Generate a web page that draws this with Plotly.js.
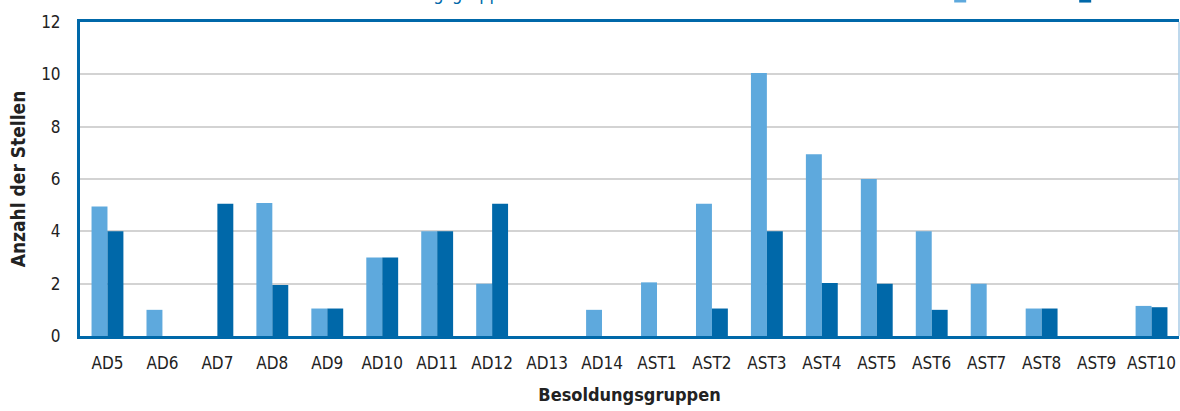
<!DOCTYPE html>
<html>
<head>
<meta charset="utf-8">
<script src="https://cdn.plot.ly/plotly-3.0.1.min.js"></script>
<style>html,body{margin:0;padding:0;background:#fff;}#chart{width:1180px;height:411px;}</style>
</head>
<body>
<div id="chart"></div>
<script>
const categories = ["AD5","AD6","AD7","AD8","AD9","AD10","AD11","AD12","AD13","AD14","AST1","AST2","AST3","AST4","AST5","AST6","AST7","AST8","AST9","AST10"];
const seriesAName = "Frauen";
const seriesBName = "Männer";
const seriesA = [4.95,1,0,5.08,1.05,3,4,2,0,1,2.05,5.05,10.05,6.95,6,4,2,1.05,0,1.15];
const seriesB = [4,0,5.05,1.95,1.05,3,4,5.05,0,0,0,1.05,4,2.03,2,1,0,1.05,0,1.1];
const yTicks = [0,2,4,6,8,10,12];

const FONT = '"Liberation Sans Narrow","DejaVu Sans Condensed","Arial Narrow",sans-serif';
const LIGHT = '#5ea9dd';
const DARK = '#0068a9';

const traces = [
  {type:'bar', name:seriesAName, x:categories, y:seriesA, marker:{color:LIGHT, line:{width:0}}},
  {type:'bar', name:seriesBName, x:categories, y:seriesB, marker:{color:DARK, line:{width:0}}}
];

const layout = {
  width:1180, height:411,
  margin:{l:80, r:1, t:22, b:75, autoexpand:false},
  paper_bgcolor:'#fff', plot_bgcolor:'#fff',
  font:{family:FONT, size:17, color:'#222'},
  barmode:'group', bargap:0.42, bargroupgap:0,
  showlegend:true,
  legend:{orientation:'h', x:0.7827, xanchor:'left', y:1.081, yanchor:'middle',
          font:{family:FONT, size:10, color:'#222'}, bgcolor:'rgba(0,0,0,0)',
          entrywidth:80, entrywidthmode:'pixels'},
  xaxis:{type:'category', showline:true, linecolor:DARK, linewidth:3, mirror:true,
         showgrid:false, ticks:'', ticklabelstandoff:10,
         tickfont:{family:FONT, size:17, color:'#222'},
         title:{text:'<b>Besoldungsgruppen</b>', font:{family:FONT, size:18, color:'#222'}, standoff:16},
         automargin:false, fixedrange:true},
  yaxis:{range:[0,12], tickvals:yTicks, ticktext:yTicks.map(String), showline:true, linecolor:DARK, linewidth:3,
         showgrid:true, gridcolor:'#d3d3d3', gridwidth:2, zeroline:false, ticks:'', ticklabelstandoff:13,
         tickfont:{family:FONT, size:17, color:'#222'},
         title:{text:'<b>Anzahl der Stellen</b>', font:{family:FONT, size:19, color:'#222'}, standoff:11},
         automargin:false, fixedrange:true},
  shapes:[
    {type:'line', xref:'paper', yref:'paper', x0:1, x1:1, y0:0, y1:1, line:{color:'#a9cbe6', width:1.5}}
  ],
  annotations:[
    {text:'Stellen nach Besoldungsgruppen', xref:'paper', yref:'paper', x:0.1556, y:1, xanchor:'left', yanchor:'bottom',
     yshift:16, showarrow:false, font:{family:FONT, size:18, color:DARK}}
  ]
};

Plotly.newPlot('chart', traces, layout, {staticPlot:true, displayModeBar:false});
</script>
</body>
</html>
